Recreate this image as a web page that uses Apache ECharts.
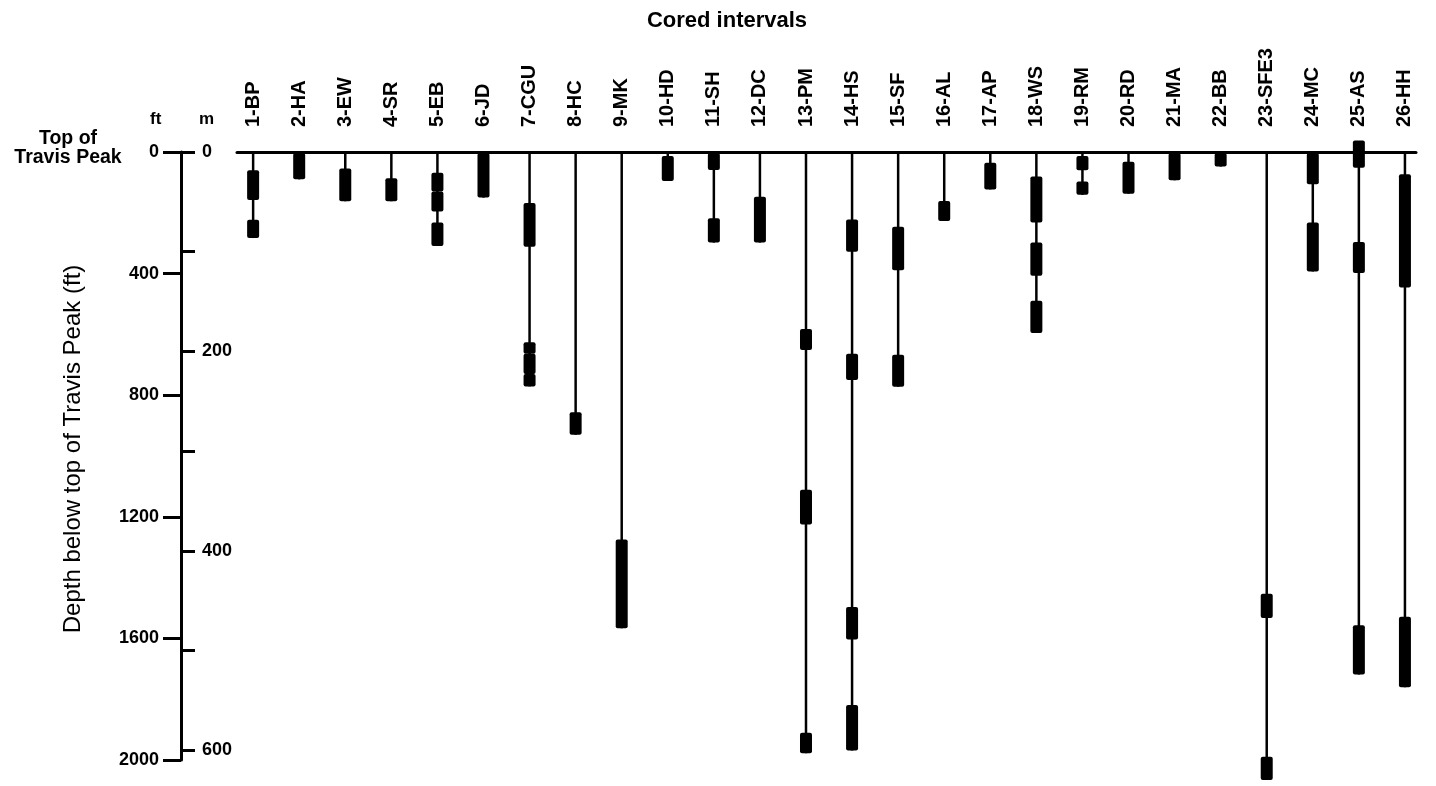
<!DOCTYPE html>
<html><head><meta charset="utf-8">
<script src="https://cdn.jsdelivr.net/npm/echarts@6/dist/echarts.min.js"></script>
<style>html,body{margin:0;padding:0;background:#fff}#c{width:1436px;height:786px}</style>
</head><body><div id="c"></div>
<script>
// Well names (cored wells), left to right
const wells = ['1-BP','2-HA','3-EW','4-SR','5-EB','6-JD','7-CGU','8-HC','9-MK','10-HD','11-SH','12-DC','13-PM',
  '14-HS','15-SF','16-AL','17-AP','18-WS','19-RM','20-RD','21-MA','22-BB','23-SFE3','24-MC','25-AS','26-HH'];

// Cored intervals: [well index, top (ft below top of Travis Peak), base (ft)]
const cores = [
  [0,60,158],[0,223,283],
  [1,3,90],
  [2,54,162],
  [3,86,162],
  [4,68,130],[4,130,196],[4,232,309],
  [5,3,150],
  [6,168,312],[6,626,664],[6,664,730],[6,730,771],
  [7,856,930],
  [8,1275,1567],
  [9,13,95],
  [10,3,59],[10,218,298],
  [11,147,298],
  [12,582,651],[12,1111,1225],[12,1910,1978],
  [13,222,328],[13,664,750],[13,1497,1604],[13,1819,1969],
  [14,246,389],[14,667,772],
  [15,161,227],
  [16,35,123],
  [17,81,232],[17,298,407],[17,489,595],
  [18,13,60],[18,97,141],
  [19,32,137],
  [20,3,93],
  [21,3,48],
  [22,1453,1533],[22,1989,2066],
  [23,3,106],[23,232,393],
  [24,-38,52],[24,296,398],[24,1557,1719],
  [25,73,446],[25,1529,1761]
];

const ftTicks = [0,400,800,1200,1600,2000];
const mTicks = [0,100,200,300,400,500,600];
const mLabels = [0,200,400,600];
const FT_PER_M = 3.28084;

// stems run from the top of Travis Peak to the deepest core of each well
const stems = wells.map((w, i) => {
  let base = 0;
  cores.forEach(c => { if (c[0] === i && c[2] > base) base = c[2]; });
  return [i, 0, base];
});

const FONT = "'Liberation Sans', Arial, Helvetica, sans-serif";
const chart = echarts.init(document.getElementById('c'), null, {renderer: 'canvas'});

chart.setOption({
  backgroundColor: '#fff',
  animation: false,
  grid: {left: 237, right: 20, top: 152, bottom: 26, containLabel: false},
  xAxis: {
    type: 'value', position: 'top', min: -0.35, max: 25.24,
    axisLine: {show: true, onZero: false, lineStyle: {color: '#000', width: 3}},
    axisTick: {show: false}, splitLine: {show: false},
    axisLabel: {
      customValues: wells.map((w, i) => i),
      formatter: v => wells[Math.round(v)] || '',
      rotate: -90, margin: 25, color: '#000',
      fontFamily: FONT, fontWeight: 'bold', fontSize: 20
    }
  },
  yAxis: [
    {
      type: 'value', inverse: true, min: 0, max: 2000, position: 'left', offset: 56,
      axisLine: {show: true, onZero: false, lineStyle: {color: '#000', width: 3}},
      axisTick: {show: true, length: 18, lineStyle: {color: '#000', width: 3}, customValues: ftTicks},
      splitLine: {show: false},
      axisLabel: {margin: 22, color: '#000', fontFamily: FONT, fontWeight: 'bold', fontSize: 18,
        customValues: ftTicks, formatter: v => String(v)},
      name: 'Depth below top of Travis Peak (ft)', nameLocation: 'middle', nameGap: 96,
      nameTextStyle: {color: '#000', fontFamily: FONT, fontSize: 24, padding: [0, 0, 0, 14]}
    },
    {
      type: 'value', inverse: true, min: 0, max: 2000 / FT_PER_M, position: 'left', offset: 56,
      axisLine: {show: false, onZero: false},
      axisTick: {show: true, inside: true, length: 14, lineStyle: {color: '#000', width: 3},
        customValues: mTicks},
      splitLine: {show: false},
      axisLabel: {inside: true, margin: 21, color: '#000', fontFamily: FONT, fontWeight: 'bold', fontSize: 18,
        customValues: mLabels, formatter: v => String(v)}
    }
  ],
  graphic: [
    {type: 'text', x: 727, y: 21, style: {text: 'Cored intervals', fill: '#000', font: 'bold 22px ' + FONT,
      textAlign: 'center', textVerticalAlign: 'middle'}},
    {type: 'text', x: 150, y: 119, style: {text: 'ft', fill: '#000', font: 'bold 17px ' + FONT,
      textAlign: 'left', textVerticalAlign: 'middle'}},
    {type: 'text', x: 199, y: 119, style: {text: 'm', fill: '#000', font: 'bold 17px ' + FONT,
      textAlign: 'left', textVerticalAlign: 'middle'}},
    {type: 'text', x: 68, y: 148, style: {text: 'Top of\nTravis Peak', fill: '#000', font: 'bold 19.5px ' + FONT,
      lineHeight: 19, textAlign: 'center', textVerticalAlign: 'middle'}}
  ],
  series: [
    {
      type: 'custom', name: 'stems', xAxisIndex: 0, yAxisIndex: 0, clip: false, silent: true,
      data: stems,
      renderItem: (params, api) => {
        const p1 = api.coord([api.value(0), api.value(1)]);
        const p2 = api.coord([api.value(0), api.value(2)]);
        return {type: 'line', shape: {x1: p1[0], y1: p1[1], x2: p2[0], y2: p2[1]},
          style: {stroke: '#000', lineWidth: 2.5}};
      }
    },
    {
      type: 'custom', name: 'cores', xAxisIndex: 0, yAxisIndex: 0, clip: false, silent: true,
      data: cores,
      renderItem: (params, api) => {
        const p1 = api.coord([api.value(0), api.value(1)]);
        const p2 = api.coord([api.value(0), api.value(2)]);
        const w = 12;
        return {type: 'rect', shape: {x: p1[0] - w / 2, y: p1[1], width: w, height: p2[1] - p1[1], r: 2},
          style: {fill: '#000'}};
      }
    }
  ]
});
</script></body></html>
